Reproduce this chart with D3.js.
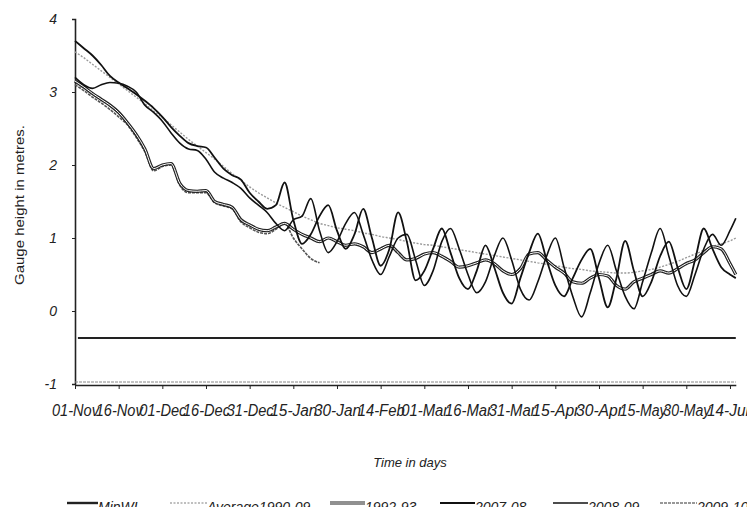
<!DOCTYPE html>
<html>
<head>
<meta charset="utf-8">
<script src="https://cdn.jsdelivr.net/npm/d3@7"></script>
<style>
  body { margin: 0; background: #fff; }
  svg { display: block; }
  text { font-family: "Liberation Sans", Arial, sans-serif; fill: #222; }
</style>
</head>
<body>
<div id="chart"></div>
<script>
// day index from 01-Nov, sampled every 3 days
const days = [0,3,6,9,12,15,18,21,24,27,30,33,36,39,42,45,48,51,54,57,60,63,66,69,72,75,78,81,84,87,
  90,93,96,99,102,105,108,111,114,117,120,123,126,129,132,135,138,141,144,147,150,153,156,159,162,165,168,171,174,177,
  180,183,186,189,192,195,198,201,204,207,210,213,216,219,222,225,227];

const tickDays = [0,15,30,45,60,75,90,105,120,135,150,165,180,195,210,225];
const tickLabels = ["01-Nov","16-Nov","01-Dec","16-Dec","31-Dec","15-Jan","30-Jan","14-Feb",
  "01-Mar","16-Mar","31-Mar","15-Apr","30-Apr","15-May","30-May","14-Jun"];
const yTicks = [-1,0,1,2,3,4];

const minWL = -0.37;

const average = [3.55,3.47,3.38,3.29,3.20,3.11,3.02,2.93,2.84,2.74,
  2.65,2.55,2.45,2.35,2.26,2.17,2.08,1.98,1.88,1.79,
  1.70,1.62,1.55,1.48,1.42,1.36,1.30,1.25,1.20,1.17,
  1.14,1.12,1.10,1.07,1.05,1.02,1.00,0.98,0.95,0.93,
  0.91,0.90,0.88,0.86,0.84,0.82,0.80,0.78,0.76,0.74,
  0.72,0.70,0.68,0.66,0.64,0.62,0.60,0.58,0.57,0.55,
  0.54,0.53,0.52,0.52,0.53,0.55,0.57,0.60,0.64,0.68,
  0.73,0.78,0.83,0.88,0.92,0.96,1.00];

const y1992 = [3.15,3.07,2.98,2.90,2.82,2.72,2.58,2.42,2.22,1.95,
  2.00,2.02,1.75,1.65,1.64,1.65,1.50,1.46,1.42,1.25,
  1.18,1.12,1.10,1.15,1.20,1.12,1.05,1.00,0.95,1.00,
  0.95,0.90,0.92,0.88,0.80,0.85,0.90,0.80,0.70,0.72,
  0.78,0.80,0.75,0.68,0.60,0.62,0.66,0.70,0.65,0.55,
  0.50,0.58,0.78,0.80,0.70,0.60,0.52,0.40,0.38,0.45,
  0.50,0.48,0.35,0.30,0.40,0.45,0.50,0.55,0.52,0.58,
  0.65,0.70,0.80,0.88,0.85,0.65,0.50];

const y2007 = [3.70,3.60,3.50,3.37,3.22,3.13,3.05,2.97,2.88,2.78,
  2.66,2.52,2.40,2.30,2.26,2.24,2.10,1.95,1.86,1.80,
  1.62,1.50,1.40,1.45,1.76,1.25,0.92,1.05,1.30,1.45,
  1.10,0.85,1.05,1.40,1.00,0.62,0.85,1.35,0.95,0.42,
  0.55,0.85,1.13,0.80,0.45,0.30,0.55,0.90,0.60,0.25,
  0.10,0.45,0.80,1.06,0.70,0.35,0.20,0.45,0.70,0.85,
  0.45,0.05,0.45,0.96,0.55,0.20,0.40,0.75,0.95,0.60,
  0.30,0.70,1.13,0.85,0.60,0.50,0.45];

const y2008 = [3.20,3.10,3.05,3.10,3.13,3.12,3.08,3.00,2.82,2.72,
  2.60,2.44,2.30,2.22,2.20,2.08,1.90,1.82,1.76,1.68,
  1.55,1.45,1.35,1.20,1.10,1.25,1.30,1.54,1.10,0.80,
  0.95,1.20,1.35,1.05,0.70,0.50,0.75,1.00,1.05,0.70,
  0.35,0.55,0.95,1.13,0.85,0.50,0.25,0.40,0.75,1.00,
  0.70,0.30,0.15,0.40,0.75,1.00,0.60,0.20,-0.08,0.25,
  0.65,0.90,0.55,0.20,0.03,0.40,0.80,1.13,0.75,0.35,
  0.20,0.50,0.85,1.05,0.90,1.10,1.27];

const y2009 = [3.10,3.02,2.93,2.85,2.76,2.66,2.55,2.38,2.18,1.92,
  1.98,2.00,1.72,1.62,1.62,1.62,1.48,1.44,1.40,1.22,
  1.14,1.08,1.06,1.12,1.20,1.00,0.85,0.72,0.66];

const legendNames = ["MinWL","Average1990-09","1992-93","2007-08","2008-09","2009-10"];

const W = 747, H = 507;
const svg = d3.select("#chart").append("svg")
  .attr("width", W).attr("height", H);

const x = d3.scaleLinear().domain([0, 227]).range([75, 75 + 227 * 2.911]);
const y = d3.scaleLinear().domain([-1, 4]).range([384, 19]);

// y axis
const yAxis = svg.append("g")
  .attr("transform", "translate(75,0)")
  .call(d3.axisLeft(y).tickValues(yTicks).tickFormat(d => String(d)).tickSize(3).tickPadding(15));
yAxis.select(".domain").attr("stroke", "#222").attr("stroke-width", 1.6);
yAxis.selectAll(".tick line").attr("stroke", "#222");
yAxis.selectAll(".tick text")
  .style("font-size", "14px").style("font-style", "italic").attr("fill", "#222");

// x axis
const xAxis = svg.append("g")
  .attr("transform", `translate(0,${y(-1) + 1})`)
  .call(d3.axisBottom(x).tickValues(tickDays).tickFormat((d, i) => tickLabels[i]).tickSize(4).tickSizeOuter(0).tickPadding(16));
xAxis.select(".domain").attr("stroke", "#222").attr("stroke-width", 1.6);
xAxis.selectAll(".tick line").attr("stroke", "#222");
xAxis.selectAll(".tick text")
  .style("font-size", "16px").style("font-style", "italic").attr("fill", "#222")
  .attr("textLength", 47).attr("lengthAdjust", "spacingAndGlyphs");
// the faint second rule just above the axis
svg.append("line")
  .attr("x1", x(0)).attr("x2", x(227))
  .attr("y1", y(-1) - 2).attr("y2", y(-1) - 2)
  .attr("stroke", "#888").attr("stroke-width", 1).attr("stroke-dasharray", "3,1");

// axis titles
svg.append("text")
  .attr("transform", "translate(24,205) rotate(-90)")
  .attr("text-anchor", "middle")
  .style("font-size", "13px")
  .attr("textLength", 160).attr("lengthAdjust", "spacingAndGlyphs")
  .text("Gauge height in metres.");

svg.append("text")
  .attr("x", 410).attr("y", 467)
  .attr("text-anchor", "middle")
  .style("font-size", "13px").style("font-style", "italic")
  .text("Time in days");

const line = d3.line()
  .defined(d => d[1] != null)
  .x(d => x(d[0]))
  .y(d => y(d[1]))
  .curve(d3.curveMonotoneX);

function pts(vals) { return vals.map((v, i) => [days[i], v]); }

// MinWL
svg.append("line")
  .attr("x1", x(1)).attr("x2", x(227))
  .attr("y1", y(minWL)).attr("y2", y(minWL))
  .attr("stroke", "#222").attr("stroke-width", 2.2);

// average
svg.append("path").attr("d", line(pts(average)))
  .attr("fill", "none").attr("stroke", "#999").attr("stroke-width", 1.4)
  .attr("stroke-dasharray", "2,1.5");

// 2009-10
svg.append("path").attr("d", line(pts(y2009)))
  .attr("fill", "none").attr("stroke", "#555").attr("stroke-width", 1.6)
  .attr("stroke-dasharray", "3,1");

// 1992-93 double line
svg.append("path").attr("d", line(pts(y1992)))
  .attr("fill", "none").attr("stroke", "#222").attr("stroke-width", 3.2);
svg.append("path").attr("d", line(pts(y1992)))
  .attr("fill", "none").attr("stroke", "#fff").attr("stroke-width", 1);

// 2007-08
svg.append("path").attr("d", line(pts(y2007)))
  .attr("fill", "none").attr("stroke", "#111").attr("stroke-width", 1.8);

// 2008-09
svg.append("path").attr("d", line(pts(y2008)))
  .attr("fill", "none").attr("stroke", "#111").attr("stroke-width", 1.6);

// legend
const legendX = [67, 170, 330, 440, 553, 660];
const legY = 503;
const leg = svg.append("g");
legendNames.forEach((name, i) => {
  const lx = legendX[i];
  const g = leg.append("g");
  if (i === 0) {
    g.append("line").attr("x1", lx).attr("x2", lx + 31).attr("y1", legY).attr("y2", legY)
      .attr("stroke", "#222").attr("stroke-width", 2.4);
  } else if (i === 1) {
    g.append("line").attr("x1", lx).attr("x2", lx + 37).attr("y1", legY).attr("y2", legY)
      .attr("stroke", "#aaa").attr("stroke-width", 1.4).attr("stroke-dasharray", "2,1.5");
  } else if (i === 2) {
    g.append("line").attr("x1", lx).attr("x2", lx + 35).attr("y1", legY).attr("y2", legY)
      .attr("stroke", "#222").attr("stroke-width", 3.2);
    g.append("line").attr("x1", lx).attr("x2", lx + 35).attr("y1", legY).attr("y2", legY)
      .attr("stroke", "#fff").attr("stroke-width", 1);
  } else if (i === 5) {
    g.append("line").attr("x1", lx).attr("x2", lx + 37).attr("y1", legY).attr("y2", legY)
      .attr("stroke", "#777").attr("stroke-width", 1.6).attr("stroke-dasharray", "3,1");
  } else {
    g.append("line").attr("x1", lx).attr("x2", lx + 35).attr("y1", legY).attr("y2", legY)
      .attr("stroke", "#111").attr("stroke-width", i === 3 ? 1.8 : 1.4);
  }
  g.append("text")
    .attr("x", lx + (i === 0 ? 31 : i === 1 || i === 5 ? 37 : 35))
    .attr("y", 512)
    .style("font-size", "14px").style("font-style", "italic")
    .text(name);
});
</script>
</body>
</html>
